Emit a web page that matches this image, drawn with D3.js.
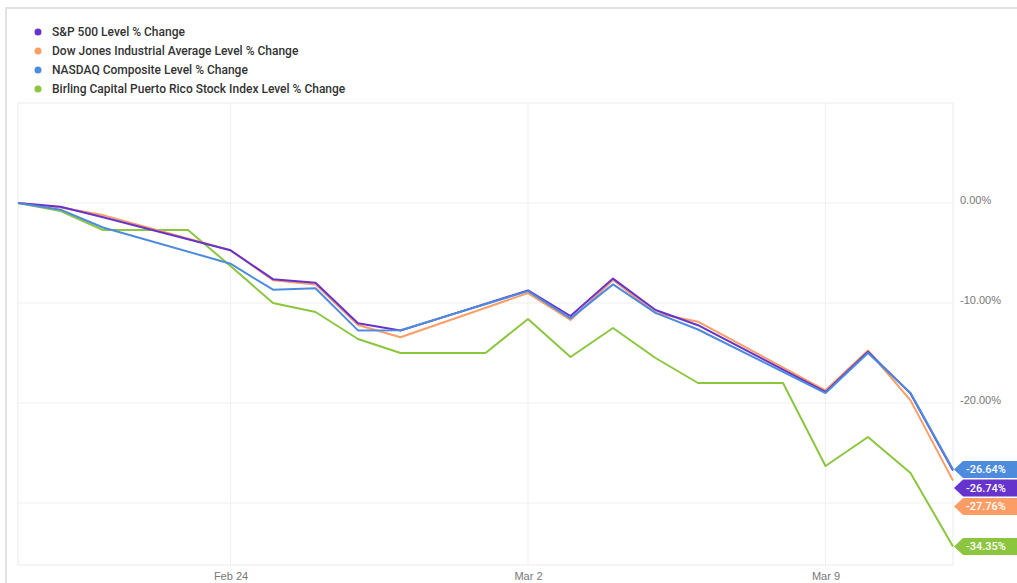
<!DOCTYPE html>
<html>
<head>
<meta charset="utf-8">
<script src="https://cdn.jsdelivr.net/npm/d3@7"></script>
<style>
  body { margin: 0; background: #fff; }
  svg { display: block; font-family: Roboto, "Open Sans", sans-serif; }
  .grid line { stroke: #efefef; }
  .axis text { fill: #777; font-size: 11px; }
  .axis path, .axis line { display: none; }
</style>
</head>
<body>
<svg id="chart"></svg>
<script>
// calendar days, the US indices have no value on weekends
const dates = ["2020-02-19", "2020-02-20", "2020-02-21", "2020-02-22", "2020-02-23", "2020-02-24",
  "2020-02-25", "2020-02-26", "2020-02-27", "2020-02-28", "2020-02-29", "2020-03-01", "2020-03-02",
  "2020-03-03", "2020-03-04", "2020-03-05", "2020-03-06", "2020-03-07", "2020-03-08", "2020-03-09",
  "2020-03-10", "2020-03-11", "2020-03-12"];

const sp500 = [0, -0.38, -1.43, null, null, -4.73, -7.62, -7.97, -12.03, -12.76, null, null, -8.74,
  -11.30, -7.56, -10.70, -12.22, null, null, -18.89, -14.88, -19.04, -26.74];
const dowJones = [0, -0.44, -1.21, null, null, -4.73, -7.72, -8.14, -12.20, -13.42, null, null, -9.01,
  -11.69, -7.69, -10.99, -11.87, null, null, -18.73, -14.75, -19.74, -27.76];
const nasdaq = [0, -0.67, -2.45, null, null, -6.07, -8.67, -8.52, -12.74, -12.73, null, null, -8.81,
  -11.54, -8.14, -10.99, -12.65, null, null, -19.01, -15.00, -19.00, -26.64];
const birling = [0, -0.8, -2.7, -2.7, -2.7, -6.3, -10.0, -10.9, -13.6, -15.0, -15.0, -15.0, -11.6,
  -15.4, -12.5, -15.5, -18.0, -18.0, -18.0, -26.3, -23.4, -27.0, -34.35];

const seriesNames = [
  "S&P 500 Level % Change",
  "Dow Jones Industrial Average Level % Change",
  "NASDAQ Composite Level % Change",
  "Birling Capital Puerto Rico Stock Index Level % Change"
];
const seriesColors = ["#6633cc", "#fd9d66", "#4d8bdc", "#8cc63f"];

const xTicks = ["2020-02-24", "2020-03-02", "2020-03-09"];
const yTicks = [0, -10, -20];
const yGrid = [0, -10, -20, -30];

const width = 1017, height = 583;
const plot = { left: 18, right: 953, top: 103, bottom: 565 };
const parse = d3.timeParse("%Y-%m-%d");

const svg = d3.select("#chart").attr("width", width).attr("height", height);

const x = d3.scaleTime()
  .domain(d3.extent(dates, parse))
  .range([plot.left, plot.right]);
const y = d3.scaleLinear()
  .domain([10, -36.2])
  .range([plot.top, plot.bottom]);

// outer frame
svg.append("path")
  .attr("d", `M6,${height} V8 H${width}`)
  .attr("fill", "none").attr("stroke", "#e2e2e2").attr("stroke-width", 2);

// plot box
svg.append("rect")
  .attr("x", plot.left).attr("y", plot.top)
  .attr("width", plot.right - plot.left).attr("height", plot.bottom - plot.top)
  .attr("fill", "none").attr("stroke", "#ececec");

// gridlines
const grid = svg.append("g").attr("class", "grid");
grid.selectAll(".h").data(yGrid).join("line").attr("class", "h")
  .attr("x1", plot.left).attr("x2", plot.right)
  .attr("y1", d => y(d)).attr("y2", d => y(d));
grid.selectAll(".v").data(xTicks).join("line").attr("class", "v")
  .attr("x1", d => x(parse(d))).attr("x2", d => x(parse(d)))
  .attr("y1", plot.top).attr("y2", plot.bottom);

// axes
svg.append("g").attr("class", "axis")
  .attr("transform", `translate(0,${plot.bottom})`)
  .call(d3.axisBottom(x).tickValues(xTicks.map(parse)).tickSize(0).tickPadding(7)
    .tickFormat(d3.timeFormat("%b %-d")));
svg.append("g").attr("class", "axis")
  .attr("transform", `translate(${plot.right},0)`)
  .call(d3.axisRight(y).tickValues(yTicks).tickSize(0).tickPadding(7)
    .tickFormat(d => d.toFixed(2) + "%"))
  .selectAll("text").attr("dy", "0.0em");

// lines
const allSeries = [sp500, dowJones, nasdaq, birling].map((values, i) => ({
  name: seriesNames[i],
  color: seriesColors[i],
  points: values.map((v, j) => ({ date: parse(dates[j]), value: v })).filter(p => p.value !== null)
}));

const line = d3.line().x(p => x(p.date)).y(p => y(p.value));

// green at the bottom, nasdaq on top
const drawOrder = [3, 1, 0, 2];
svg.append("g").selectAll("path").data(drawOrder.map(i => allSeries[i])).join("path")
  .attr("d", s => line(s.points))
  .attr("fill", "none")
  .attr("stroke", s => s.color)
  .attr("stroke-width", 2)
  .attr("stroke-linejoin", "round");

// end value tags, pushed apart so they do not overlap
const tags = allSeries.map(s => {
  const last = s.points[s.points.length - 1];
  return { color: s.color, value: last.value, y: y(last.value) };
}).sort((a, b) => a.y - b.y);
const tagGap = 18.5;
tags.forEach((t, i) => {
  if (i > 0 && t.y < tags[i - 1].y + tagGap) t.y = tags[i - 1].y + tagGap;
});

const tag = svg.append("g").selectAll("g").data(tags).join("g")
  .attr("transform", t => `translate(${plot.right + 1},${t.y})`);
tag.append("path")
  .attr("d", "M0,0 L9,-8.5 H70 V8.5 H9 Z")
  .attr("fill", t => t.color);
tag.append("text")
  .attr("x", 12).attr("dy", "0.35em")
  .attr("fill", "#fff").attr("font-size", 11).attr("font-weight", 500)
  .text(t => t.value.toFixed(2) + "%");

// legend
const legend = svg.append("g").selectAll("g").data(allSeries).join("g")
  .attr("transform", (s, i) => `translate(38,${32 + i * 19})`);
legend.append("circle").attr("r", 3.5).attr("fill", s => s.color);
legend.append("text")
  .attr("x", 14).attr("dy", "0.35em")
  .attr("fill", "#333").attr("font-size", 12).attr("font-weight", 500)
  .text(s => s.name);
</script>
</body>
</html>
